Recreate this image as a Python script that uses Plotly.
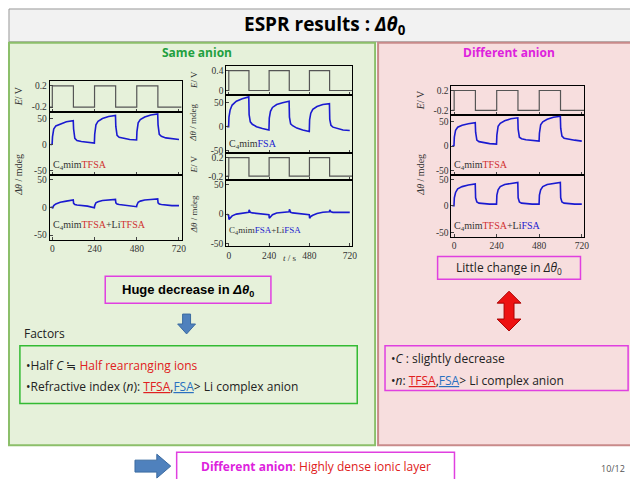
import plotly.graph_objects as go

W, H = 638, 479

# time axis shared by all response curves (s)
t = [-10, -1, 1, 8, 20, 45, 80, 119, 121, 128, 140, 165, 200, 239,
     241, 248, 260, 285, 320, 359, 361, 368, 380, 405, 440, 479,
     481, 488, 500, 525, 560, 599, 601, 608, 620, 645, 680, 720]

tfsa = [0, 1, 15, 30, 36, 40, 44, 46, 30, 12, 8, 6, 4, 3,
        20, 38, 45, 50, 54, 56, 35, 18, 14, 12, 10, 9,
        25, 42, 48, 53, 57, 59, 38, 20, 16, 13, 11, 10]
tfsa_litfsa = [0, 0, -2, 3, 6, 9, 11, 13, 7, 5, 4, 3, 2, -1,
               3, 8, 10, 12, 13, 14, 8, 6, 5, 4, 3, 1,
               4, 9, 11, 13, 14, 15, 8, 6, 5, 4, 3, 3]
fsa = [0, 0, 20, 35, 45, 53, 58, 62, 25, 10, 5, 0, -4, -7,
       18, 32, 40, 46, 50, 53, 20, 6, 2, -3, -7, -10,
       14, 28, 36, 42, 46, 48, 15, 3, -1, -4, -7, -8]
fsa_lifsa = [0, -2, -9, -6, -3, 0, 2, 3, 7, 3, 2, 1, 0, -1,
             -7, -4, -1, 2, 3, 4, 8, 3, 2, 1, 0, -1,
             -7, -4, -2, 1, 3, 4, 7, 4, 3, 3, 3, 3]
tfsa_r = [0, 1, 18, 32, 38, 42, 45, 47, 28, 12, 9, 7, 5, 4,
          22, 40, 46, 51, 55, 57, 34, 18, 15, 13, 11, 10,
          26, 43, 49, 54, 58, 60, 36, 20, 16, 14, 12, 10]
tfsa_lifsa = [0, 0, 15, 25, 32, 36, 39, 41, 15, 7, 5, 4, 3, 3,
              20, 30, 36, 40, 42, 44, 15, 7, 5, 4, 3, 3,
              20, 30, 36, 40, 42, 44, 15, 7, 5, 4, 3, 3]

# potential steps
t_step = [-15, 0, 120, 240, 360, 480, 600, 735]
e_sym = [-0.2, 0.2, -0.2, 0.2, -0.2, 0.2, -0.2, -0.2]
e_pos = [0.0, 0.4, 0.0, 0.4, 0.0, 0.4, 0.0, 0.0]

BLUE = "#1a1ad0"
RED = "#d03030"
SERIF = "Liberation Serif"

fig = go.Figure()


def px(x):
    return x / W


def py(y):
    return 1 - y / H


axes = {}


def panel(n, x0, x1, y0, y1, xs, ys, color, yrange, yticks, xlabels):
    ax = "" if n == 1 else str(n)
    fig.add_trace(go.Scatter(x=xs, y=ys, mode="lines",
                             line=dict(color=color, width=1.6 if color == BLUE else 1.2,
                                       shape="hv" if color != BLUE else "linear"),
                             xaxis="x" + ax, yaxis="y" + ax, showlegend=False))
    common = dict(showline=True, mirror=True, linecolor="black", linewidth=1,
                  ticks="inside", ticklen=3, showgrid=False, zeroline=False,
                  tickfont=dict(family=SERIF, size=9.5, color="#333"))
    axes["xaxis" + ax] = dict(common, domain=[px(x0), px(x1)], anchor="y" + ax,
                              range=[-15, 735], tickvals=[0, 240, 480, 720],
                              showticklabels=xlabels)
    axes["yaxis" + ax] = dict(common, domain=[py(y1), py(y0)], anchor="x" + ax,
                              range=yrange, tickvals=yticks,
                              ticktext=[("%g" % v) for v in yticks])


# left column (same anion, TFSA)
panel(1, 42, 175, 73, 105, t_step, e_sym, "#555", [-0.3, 0.3], [0.2, -0.2], False)
panel(2, 42, 175, 105, 168, t, tfsa, BLUE, [-58, 62], [50, 0, -50], False)
panel(3, 42, 175, 168, 233, t, tfsa_litfsa, BLUE, [-58, 58], [50, 0, -50], True)
# middle column (same anion, FSA)
panel(4, 220, 347, 58, 88, t_step, e_pos, "#555", [-0.1, 0.5], [0.4, 0.0], False)
panel(5, 220, 347, 88, 146, t, fsa, BLUE, [-55, 65], [50, 0, -50], False)
panel(6, 220, 347, 146, 173, t_step, e_sym, "#555", [-0.28, 0.3], [0.2, -0.2], False)
panel(7, 220, 347, 173, 240, t, fsa_lifsa, BLUE, [-55, 58], [50, 0, -50], True)
# right column (different anion)
panel(8, 447, 581, 78, 108, t_step, e_sym, "#555", [-0.3, 0.3], [0.2, -0.2], False)
panel(9, 447, 581, 108, 168, t, tfsa_r, BLUE, [-58, 62], [50, 0, -50], False)
panel(10, 447, 581, 168, 230, t, tfsa_lifsa, BLUE, [-58, 58], [50, 0, -50], True)

shapes = [
    # title bar
    dict(type="rect", x0=px(1), x1=px(637), y0=py(34), y1=py(1), xref="paper", yref="paper",
         fillcolor="#f2f2f2", line=dict(color="#999", width=1), layer="below"),
    # panels
    dict(type="rect", x0=px(1), x1=px(370), y0=py(440), y1=py(35), xref="paper", yref="paper",
         fillcolor="#e6f1da", line=dict(color="#8cbf6a", width=2), layer="below"),
    dict(type="rect", x0=px(373), x1=px(633), y0=py(440), y1=py(35), xref="paper", yref="paper",
         fillcolor="#f7dede", line=dict(color="#c98a8a", width=2), layer="below"),
    # text boxes
    dict(type="rect", x0=px(98), x1=px(265), y0=py(297), y1=py(270), xref="paper", yref="paper",
         line=dict(color="#e040e0", width=1.5)),
    dict(type="rect", x0=px(12), x1=px(352), y0=py(398), y1=py(340), xref="paper", yref="paper",
         line=dict(color="#33bb33", width=1.5)),
    dict(type="rect", x0=px(433), x1=px(577), y0=py(273), y1=py(250), xref="paper", yref="paper",
         line=dict(color="#e040e0", width=1.5)),
    dict(type="rect", x0=px(380), x1=px(625), y0=py(385), y1=py(340), xref="paper", yref="paper",
         line=dict(color="#e040e0", width=1.5)),
    dict(type="rect", x0=px(170), x1=px(450), y0=py(475), y1=py(447), xref="paper", yref="paper",
         line=dict(color="#e040e0", width=1.5)),
    # blue down arrow
    dict(type="path", xref="paper", yref="paper", fillcolor="#4f81bd", line=dict(color="#3a6aa0", width=1),
         path="M %f %f L %f %f L %f %f L %f %f L %f %f L %f %f L %f %f Z" % (
             px(176), py(308), px(184), py(308), px(184), py(318), px(189), py(318),
             px(180), py(328), px(171), py(318), px(176), py(318))),
    # red double arrow
    dict(type="path", xref="paper", yref="paper", fillcolor="#ee1111", line=dict(color="#aa0000", width=1),
         path="M %f %f L %f %f L %f %f L %f %f L %f %f L %f %f L %f %f L %f %f L %f %f L %f %f Z" % (
             px(505), py(285), px(517), py(297), px(510), py(297), px(510), py(313),
             px(517), py(313), px(505), py(325), px(493), py(313), px(500), py(313),
             px(500), py(297), px(493), py(297))),
    # blue right arrow
    dict(type="path", xref="paper", yref="paper", fillcolor="#4f81bd", line=dict(color="#3a6aa0", width=1),
         path="M %f %f L %f %f L %f %f L %f %f L %f %f L %f %f L %f %f Z" % (
             px(128), py(455), px(150), py(455), px(150), py(449), px(164), py(461),
             px(150), py(473), px(150), py(467), px(128), py(467))),
]


def txt(x, y, s, size=11, color="black", family="Open Sans", xanchor="center", angle=0):
    return dict(x=px(x), y=py(y), xref="paper", yref="paper", text=s, showarrow=False,
                xanchor=xanchor, yanchor="middle", textangle=angle,
                font=dict(size=size, color=color, family=family))


R = "<span style='color:%s'>%%s</span>" % RED
B = "<span style='color:%s'>%%s</span>" % BLUE
ann = [
    txt(320, 17, "<b>ESPR results : <i>Δθ</i><sub>0</sub></b>", 19),
    txt(190, 45, "<b>Same anion</b>", 12, "#22a040"),
    txt(505, 45, "<b>Different anion</b>", 12, "#dd22dd"),
    # axis titles
    txt(11, 89, "<i>E</i>/ V", 10, "#333", SERIF, angle=-90),
    txt(11, 168, "<i>Δθ</i> / mdeg", 10, "#333", SERIF, angle=-90),
    txt(187, 73, "<i>E</i>/ V", 9, "#333", SERIF, angle=-90),
    txt(187, 116, "<i>Δθ</i> / mdeg", 9, "#333", SERIF, angle=-90),
    txt(187, 158, "<i>E</i>/ V", 9, "#333", SERIF, angle=-90),
    txt(187, 208, "<i>Δθ</i> / mdeg", 9, "#333", SERIF, angle=-90),
    txt(284, 252, "<i>t</i> / s", 9, "#333", SERIF),
    txt(416, 93, "<i>E</i>/ V", 10, "#333", SERIF, angle=-90),
    txt(416, 168, "<i>Δθ</i> / mdeg", 10, "#333", SERIF, angle=-90),
    # sample labels
    txt(43, 158, "C<sub>4</sub>mim" + R % "TFSA", 10, "#333", SERIF, "left"),
    txt(43, 219, "C<sub>4</sub>mim" + R % "TFSA" + "+Li" + R % "TFSA", 10, "#333", SERIF, "left"),
    txt(221, 137, "C<sub>4</sub>mim" + B % "FSA", 10, "#333", SERIF, "left"),
    txt(221, 224, "C<sub>4</sub>mim" + B % "FSA" + "+Li" + B % "FSA", 9, "#333", SERIF, "left"),
    txt(448, 158, "C<sub>4</sub>mim" + R % "TFSA", 10, "#333", SERIF, "left"),
    txt(448, 220, "C<sub>4</sub>mim" + R % "TFSA" + "+Li" + B % "FSA", 10, "#333", SERIF, "left"),
    # boxes
    txt(181, 284, "<b>Huge decrease in <i>Δθ</i><sub>0</sub></b>", 13, "black", "Liberation Sans"),
    txt(14, 328, "Factors", 12, "#222", "Open Sans", "left"),
    txt(16, 360, "•Half <i>C</i> ≒ <span style='color:#e02020'>Half rearranging ions</span>",
        12, "#222", "Open Sans", "left"),
    txt(16, 381, "•Refractive index (<i>n</i>): <span style='color:#e02020'><u>TFSA</u></span>,"
        "<span style='color:#2a70c0'><u>FSA</u></span>> Li complex anion",
        12, "#222", "Open Sans", "left"),
    txt(505, 262, "Little change in <i>Δθ</i><sub>0</sub>", 12, "#222"),
    txt(384, 353, "•<i>C</i> : slightly decrease", 12, "#222", "Open Sans", "left"),
    txt(384, 375, "•<i>n</i>: <span style='color:#e02020'><u>TFSA</u></span>,"
        "<span style='color:#2a70c0'><u>FSA</u></span>> Li complex anion",
        12, "#222", "Open Sans", "left"),
    txt(310, 461, "<b><span style='color:#dd22dd'>Different anion</span></b>"
        "<span style='color:#e02020'>: Highly dense ionic layer</span>", 12),
    txt(610, 463, "10/12", 9, "#555"),
]

fig.update_layout(width=W, height=H, margin=dict(l=0, r=0, t=0, b=0),
                  paper_bgcolor="white", plot_bgcolor="rgba(0,0,0,0)",
                  shapes=shapes, annotations=ann, **axes)
fig.write_html("out.html")
